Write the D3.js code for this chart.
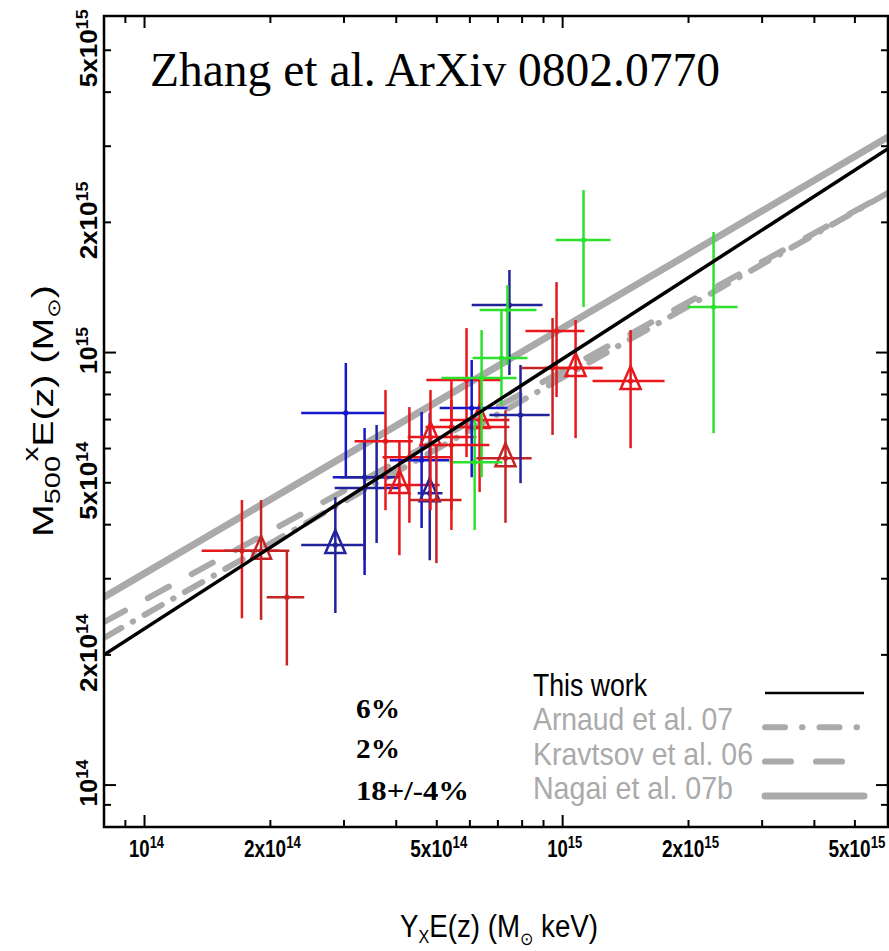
<!DOCTYPE html>
<html>
<head>
<meta charset="utf-8">
<script src="https://cdn.jsdelivr.net/npm/d3@7/dist/d3.min.js"></script>
<style>
  body { margin: 0; background: #fff; }
  .sans { font-family: "Liberation Sans", Arial, sans-serif; }
  .serif { font-family: "Liberation Serif", "Times New Roman", serif; }
</style>
</head>
<body>
<svg id="chart" width="889" height="951"></svg>
<script>
// values in units of 1e14 (x: M_sun keV, y: M_sun)
const ptGroup = ["r","d","d","n","b","b","n","n","r","r","r","b","n","d","r","r","r","r","b","n","g","g","g","d","n","g","r","d","r","r","g","g","r"];
const ptTri   = [0,1,0,1,0,0,0,0,0,1,0,0,1,0,1,0,0,1,0,0,0,0,0,1,0,0,0,0,1,1,0,0,0];
const xMid = [1.71,1.90,2.19,2.86,3.03,3.36,3.59,3.36,3.77,4.07,4.30,4.60,4.81,4.99,4.83,5.42,5.89,6.33,6.06,7.46,7.14,7.38,6.40,7.30,7.93,6.16,9.67,9.46,10.74,14.54,11.22,22.96,5.42];
const xLo  = [1.37,1.55,1.96,2.37,2.37,2.82,2.93,2.85,3.18,3.75,3.71,3.86,4.50,4.30,4.26,4.70,4.72,5.08,5.08,6.06,6.09,6.33,5.13,6.22,6.68,5.36,8.15,7.97,9.05,11.79,9.62,19.9,4.67];
const xHi  = [2.10,2.22,2.41,3.34,3.77,3.92,4.07,4.07,4.38,5.08,5.45,5.36,5.16,5.73,6.22,7.46,7.14,7.46,7.38,8.95,8.24,8.66,7.76,8.43,9.31,7.18,11.28,12.46,12.46,17.53,13.02,26.2,6.68];
const yMid = [3.48,3.48,2.72,3.59,7.25,5.15,5.15,4.86,6.24,4.94,5.73,5.64,4.73,4.56,6.38,6.73,8.64,6.98,7.44,12.88,9.71,12.54,8.73,5.70,7.17,5.58,11.21,9.21,9.21,8.59,18.2,12.74,6.11];
const yLo  = [2.43,2.41,1.89,2.50,5.15,3.06,3.63,3.31,4.32,3.40,4.04,3.93,3.31,3.26,4.32,4.32,5.73,4.76,5.15,8.87,7.56,9.36,5.15,4.04,4.99,3.89,7.89,6.45,6.34,6.01,12.74,6.51,3.89];
const yHi  = [4.56,4.56,3.48,4.63,9.46,6.69,6.80,6.28,8.19,6.28,7.48,7.29,7.25,6.11,8.19,8.64,11.39,8.64,9.61,15.52,12.54,14.32,11.27,7.36,9.36,6.98,14.55,12.02,11.89,11.27,23.76,19.0,7.77];

// scaling relations, value at the two plot edges
const fitNames = ["This work", "Arnaud et al. 07", "Kravtsov et al. 06", "Nagai et al. 07b"];
const fitX = [0.8, 60];
const fitY = [[2.0, 29.6], [2.19, 23.4], [2.38, 23.4], [2.72, 31.5]];

const majorTicks = [1, 2, 5, 10, 20, 50];
const majorMant = ["", "2x", "5x", "", "2x", "5x"];
const majorExp = ["14", "14", "14", "15", "15", "15"];

const scatterText = ["6%", "2%", "18+/-4%"];

const colors = { r: "#e8171b", d: "#c42424", b: "#1616cc", n: "#22229a", g: "#2ee02e" };
const gray = "#aaaaaa";

const mLeft = 104, mRight = 888, mTop = 16, mBottom = 827;
const x = d3.scaleLog().domain([0.8, 60]).range([mLeft, mRight]);
const y = d3.scaleLog().domain([0.8, 60]).range([mBottom, mTop]);

const svg = d3.select("#chart");

svg.append("defs").append("clipPath").attr("id", "frame")
  .append("rect").attr("x", mLeft).attr("y", mTop).attr("width", mRight - mLeft).attr("height", mBottom - mTop);

const plot = svg.append("g").attr("clip-path", "url(#frame)");

// every integer multiple inside the domain gets a tick
let ticks = [];
[0.1, 1, 10].forEach(d => { for (let i = 1; i <= 9; i++) { let v = +(i * d).toFixed(2); if (v >= 0.8 && v <= 60) ticks.push(v); } });
const isDecade = v => [1, 10].includes(v);

let line = d3.line().x(d => x(d[0])).y(d => y(d[1]));
const fitStyle = [
  { w: 3.5, c: "#000", dash: null },
  { w: 6, c: gray, dash: "20,13,0.5,13" },
  { w: 6, c: gray, dash: "24,26" },
  { w: 7, c: gray, dash: null }
];

// gray relations below the data
[3, 2, 1].forEach(i => {
  plot.append("path")
    .datum(fitX.map((v, k) => [v, fitY[i][k]]))
    .attr("d", line)
    .attr("fill", "none")
    .attr("stroke", fitStyle[i].c)
    .attr("stroke-width", fitStyle[i].w)
    .attr("stroke-linecap", "round")
    .attr("stroke-dasharray", fitStyle[i].dash);
});

// error crosses
const pts = xMid.map((v, i) => ({ x: v, xl: xLo[i], xh: xHi[i], y: yMid[i], yl: yLo[i], yh: yHi[i], c: colors[ptGroup[i]], tri: ptTri[i] }));
let cross = plot.selectAll("g.pt").data(pts).enter().append("g").attr("class", "pt");
cross.append("line")
  .attr("x1", d => x(d.xl)).attr("x2", d => x(d.xh))
  .attr("y1", d => y(d.y)).attr("y2", d => y(d.y))
  .attr("stroke", d => d.c).attr("stroke-width", 2.5);
cross.append("line")
  .attr("x1", d => x(d.x)).attr("x2", d => x(d.x))
  .attr("y1", d => y(d.yl)).attr("y2", d => y(d.yh))
  .attr("stroke", d => d.c).attr("stroke-width", 2.5);
cross.append("circle")
  .attr("cx", d => x(d.x)).attr("cy", d => y(d.y)).attr("r", 2.6)
  .attr("fill", d => d.c);
cross.filter(d => d.tri).append("path")
  .attr("d", d => {
    let cx = x(d.x), cy = y(d.y);
    return "M" + cx + "," + (cy - 15) + "L" + (cx + 10) + "," + (cy + 8) + "L" + (cx - 10) + "," + (cy + 8) + "Z";
  })
  .attr("fill", "none").attr("stroke", d => d.c).attr("stroke-width", 2.5);

// this work on top
plot.append("path")
  .datum(fitX.map((v, k) => [v, fitY[0][k]]))
  .attr("d", line)
  .attr("fill", "none")
  .attr("stroke", "#000")
  .attr("stroke-width", fitStyle[0].w);

// frame and ticks
svg.append("rect").attr("x", mLeft).attr("y", mTop).attr("width", mRight - mLeft).attr("height", mBottom - mTop)
  .attr("fill", "none").attr("stroke", "#000").attr("stroke-width", 2.5);

let tg = svg.append("g").attr("stroke", "#000").attr("stroke-width", 2);
ticks.forEach(v => {
  let len = isDecade(v) ? 12 : 7;
  tg.append("line").attr("x1", x(v)).attr("x2", x(v)).attr("y1", mBottom).attr("y2", mBottom - len);
  tg.append("line").attr("x1", x(v)).attr("x2", x(v)).attr("y1", mTop).attr("y2", mTop + len);
  tg.append("line").attr("y1", y(v)).attr("y2", y(v)).attr("x1", mLeft).attr("x2", mLeft + len);
  tg.append("line").attr("y1", y(v)).attr("y2", y(v)).attr("x1", mRight).attr("x2", mRight - len);
});

// tick labels (squeezed like the original narrow font)
majorTicks.forEach((v, i) => {
  let t = svg.append("text").attr("class", "sans")
    .attr("x", x(v) + 2).attr("y", 857)
    .attr("text-anchor", "middle").attr("font-weight", "bold").attr("font-size", 23)
    .attr("textLength", majorMant[i] ? 57 : 35).attr("lengthAdjust", "spacingAndGlyphs");
  t.append("tspan").text(majorMant[i] + "10");
  t.append("tspan").attr("dy", -9).attr("font-size", 16).text(majorExp[i]);
});
majorTicks.forEach((v, i) => {
  let t = svg.append("text").attr("class", "sans")
    .attr("transform", "translate(97," + (y(v) - 2) + ") rotate(-90)")
    .attr("text-anchor", "middle").attr("font-weight", "bold").attr("font-size", 23)
    .attr("textLength", majorMant[i] ? 78 : 47).attr("lengthAdjust", "spacingAndGlyphs");
  t.append("tspan").text(majorMant[i] + "10");
  t.append("tspan").attr("dy", -9).attr("font-size", 16).text(majorExp[i]);
});

// axis titles
let xt = svg.append("text").attr("class", "sans")
  .attr("x", 499).attr("y", 937).attr("text-anchor", "middle").attr("font-size", 31)
  .attr("textLength", 198).attr("lengthAdjust", "spacingAndGlyphs");
xt.append("tspan").text("Y");
xt.append("tspan").attr("dy", 6).attr("font-size", 18).text("X");
xt.append("tspan").attr("dy", -6).text("E(z)  (M");
xt.append("tspan").attr("dy", 8).attr("font-size", 18).text("⊙");
xt.append("tspan").attr("dy", -8).text(" keV)");

let yt = svg.append("text").attr("class", "sans")
  .attr("transform", "translate(53,411) rotate(-90)").attr("text-anchor", "middle").attr("font-size", 30)
  .attr("textLength", 252).attr("lengthAdjust", "spacingAndGlyphs");
yt.append("tspan").text("M");
yt.append("tspan").attr("dy", 7).attr("font-size", 22).text("500");
yt.append("tspan").attr("dy", -22).attr("dx", -4).attr("font-size", 22).text("x");
yt.append("tspan").attr("dy", 15).text("E(z)  (M");
yt.append("tspan").attr("dy", 7).attr("font-size", 18).text("⊙");
yt.append("tspan").attr("dy", -7).text(")");

// title
svg.append("text").attr("class", "serif").attr("x", 150).attr("y", 86)
  .attr("font-size", 47.5)
  .text("Zhang et al. ArXiv 0802.0770");

// scatter percentages
scatterText.forEach((s, i) => {
  svg.append("text").attr("class", "serif")
    .attr("x", 356).attr("y", 718 + i * 40 + (i === 2 ? 2 : 0))
    .attr("font-weight", "bold").attr("font-size", 28)
    .attr("textLength", s.length > 3 ? 113 : 44).attr("lengthAdjust", "spacingAndGlyphs")
    .text(s);
});

// legend
const legLen = [114, 200, 220, 200];
fitNames.forEach((n, i) => {
  let ly = 693 + i * 34.3;
  svg.append("text").attr("class", "sans")
    .attr("x", 533).attr("y", ly + 3)
    .attr("font-size", 32).attr("fill", i === 0 ? "#000" : gray)
    .attr("textLength", legLen[i]).attr("lengthAdjust", "spacingAndGlyphs")
    .text(n);
  svg.append("line")
    .attr("x1", 765).attr("x2", 864).attr("y1", ly).attr("y2", ly)
    .attr("stroke", fitStyle[i].c).attr("stroke-width", i === 0 ? 2.5 : fitStyle[i].w)
    .attr("stroke-linecap", i === 0 ? "butt" : "round")
    .attr("stroke-dasharray", i === 1 ? "20,17,0.5,17" : i === 2 ? "26,25" : null);
});
</script>
</body>
</html>
